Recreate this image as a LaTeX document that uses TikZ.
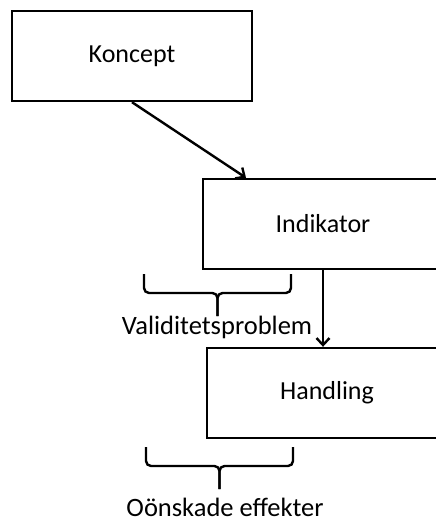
\documentclass[tikz,border=0pt]{standalone}
\usepackage{fontspec}
\setmainfont{Carlito}
\usetikzlibrary{arrows.meta,calc}
\begin{document}
\begin{tikzpicture}[x=1pt, y=-1pt]
        \tikzstyle{blk} = [draw, black, line width=2.4pt]
        \tikzstyle{stepbox} = [draw, black, line width=2.4pt, minimum width=240pt, minimum height=90pt, font=\fontsize{26}{30}\selectfont]
        \tikzstyle{brc} = [draw, black, line width=2.4pt, rounded corners=5pt]
        \tikzstyle{lbl} = [inner sep=0pt, font=\fontsize{26.5}{30}\selectfont]
        \clip (0, 0) rectangle (436, 522);
        
        \node[stepbox] (koncept) at (132, 56) {Koncept};
        \node[stepbox] (indikator) at (323, 224) {Indikator};
        \node[stepbox] (handling) at (327, 393) {Handling};
        \coordinate (b1l) at (144, 274);
        \coordinate (b1r) at (291, 274);
        \coordinate (b1m) at (217.5, 293);
        \coordinate (b1t) at (217.5, 316);
        \coordinate (b2l) at (146, 447);
        \coordinate (b2r) at (293, 447);
        \coordinate (b2m) at (219.5, 466);
        \coordinate (b2t) at (219.5, 489);
        \node[lbl] (validitet) at (217, 327) {Validitetsproblem};
        \node[lbl] (effekter) at (225, 507) {Oönskade effekter};
        
        \path[blk, -{Straight Barb[length=7pt, width=13pt]}] (koncept.south) to ([xshift=-77pt]indikator.north);
        \path[blk, -{Straight Barb[length=7pt, width=13pt]}] (indikator.south) to (indikator.south |- handling.north);
        \path[brc] (b1l) -- (b1l |- b1m) -- (b1m) -- (b1t);
        \path[brc] (b1r) -- (b1r |- b1m) -- (b1m) -- (b1t);
        \path[brc] (b2l) -- (b2l |- b2m) -- (b2m) -- (b2t);
        \path[brc] (b2r) -- (b2r |- b2m) -- (b2m) -- (b2t);
    \end{tikzpicture}
\end{document}
